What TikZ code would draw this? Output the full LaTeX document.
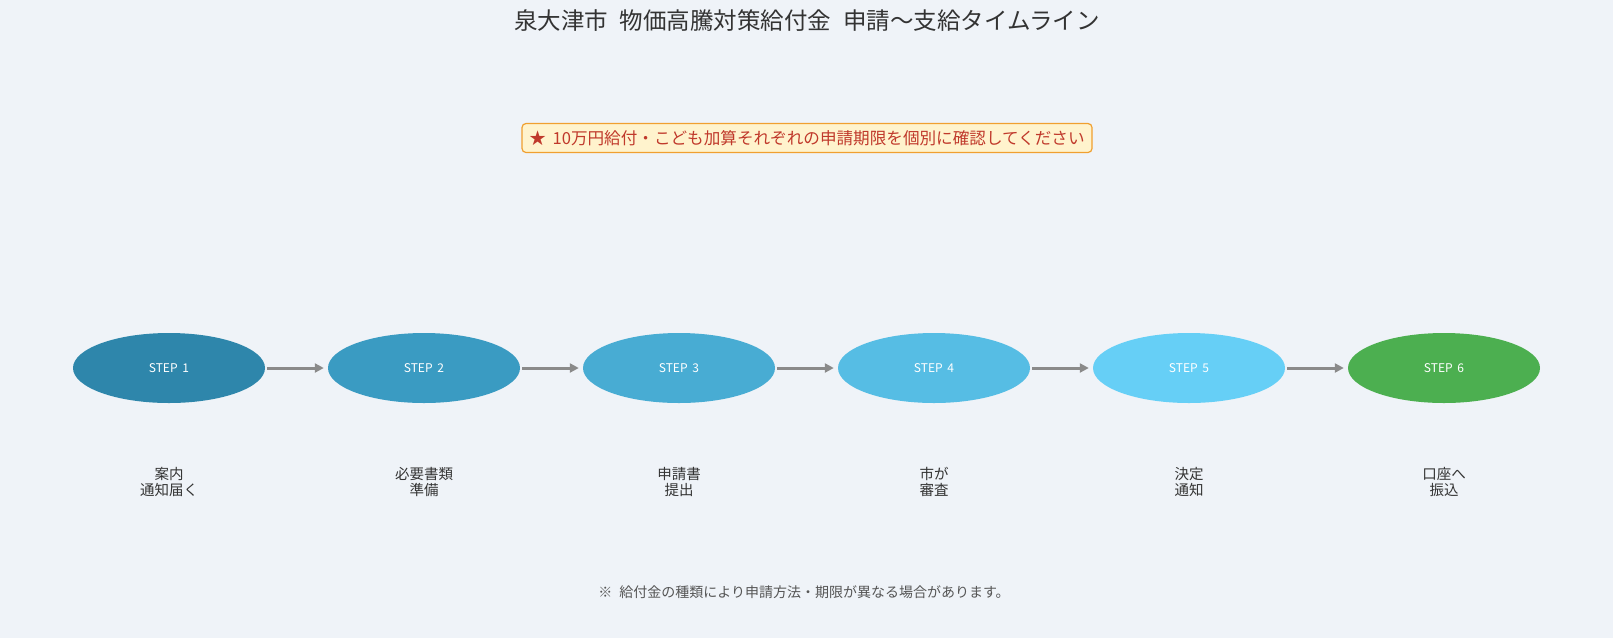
\documentclass[tikz,border=0pt]{standalone}
\usepackage{fontspec}
\setmainfont{Noto Sans CJK JP}
\usetikzlibrary{shapes.geometric,arrows.meta}
\definecolor{bgc}{HTML}{EFF3F8}
\definecolor{cA}{HTML}{2E86AB}
\definecolor{cB}{HTML}{3A9BC2}
\definecolor{cC}{HTML}{48ACD3}
\definecolor{cD}{HTML}{56BDE4}
\definecolor{cE}{HTML}{66CFF6}
\definecolor{cF}{HTML}{4CAF50}
\definecolor{arrc}{HTML}{8A8A8A}
\definecolor{txtc}{HTML}{333333}
\definecolor{notec}{HTML}{555555}
\definecolor{bannerfill}{HTML}{FFF3CD}
\definecolor{bannerdraw}{HTML}{F0A030}
\definecolor{bannertext}{HTML}{C0392B}
\tikzset{
  stepnode/.style={ellipse, minimum width=192pt, minimum height=70pt, inner sep=0pt, text=white, font=\fontsize{12}{14}\selectfont},
  steplabel/.style={align=center, text=txtc, font=\fontsize{14.5}{16}\selectfont, inner sep=0pt},
  flow/.style={draw=arrc, line width=3pt, -{Triangle[length=9pt,width=9pt]}, shorten <=2pt, shorten >=4pt}
}
\begin{document}
\begin{tikzpicture}[x=1pt,y=-1pt]
\fill[bgc] (0,0) rectangle (1613,638);
\useasboundingbox (0,0) rectangle (1613,638);
\node[text=txtc, font=\fontsize{23.5}{26}\selectfont] (title) at (807,21) {泉大津市\hspace{0.5em}物価高騰対策給付金\hspace{0.5em}申請～支給タイムライン};
\node[draw=bannerdraw, line width=1.2pt, fill=bannerfill, rounded corners=4pt, minimum width=570pt, minimum height=29pt, text=bannertext, font=\fontsize{16.6}{18}\selectfont] (banner) at (807,138) {★\hspace{0.4em}10万円給付・こども加算それぞれの申請期限を個別に確認してください};
\node[stepnode, fill=cA] (s1) at (169,368) {STEP\hspace{0.4em}1};
\node[stepnode, fill=cB] (s2) at (424,368) {STEP\hspace{0.4em}2};
\node[stepnode, fill=cC] (s3) at (679,368) {STEP\hspace{0.4em}3};
\node[stepnode, fill=cD] (s4) at (934,368) {STEP\hspace{0.4em}4};
\node[stepnode, fill=cE] (s5) at (1189,368) {STEP\hspace{0.4em}5};
\node[stepnode, fill=cF] (s6) at (1444,368) {STEP\hspace{0.4em}6};
\draw[flow] (s1) -- (s2);
\draw[flow] (s2) -- (s3);
\draw[flow] (s3) -- (s4);
\draw[flow] (s4) -- (s5);
\draw[flow] (s5) -- (s6);
\node[steplabel] (l1) at (169,482) {案内\\通知届く};
\node[steplabel] (l2) at (424,482) {必要書類\\準備};
\node[steplabel] (l3) at (679,482) {申請書\\提出};
\node[steplabel] (l4) at (934,482) {市が\\審査};
\node[steplabel] (l5) at (1189,482) {決定\\通知};
\node[steplabel] (l6) at (1444,482) {口座へ\\振込};
\node[text=notec, font=\fontsize{14}{16}\selectfont] (note) at (804,592) {※\hspace{0.5em}給付金の種類により申請方法・期限が異なる場合があります。};
\end{tikzpicture}
\end{document}
